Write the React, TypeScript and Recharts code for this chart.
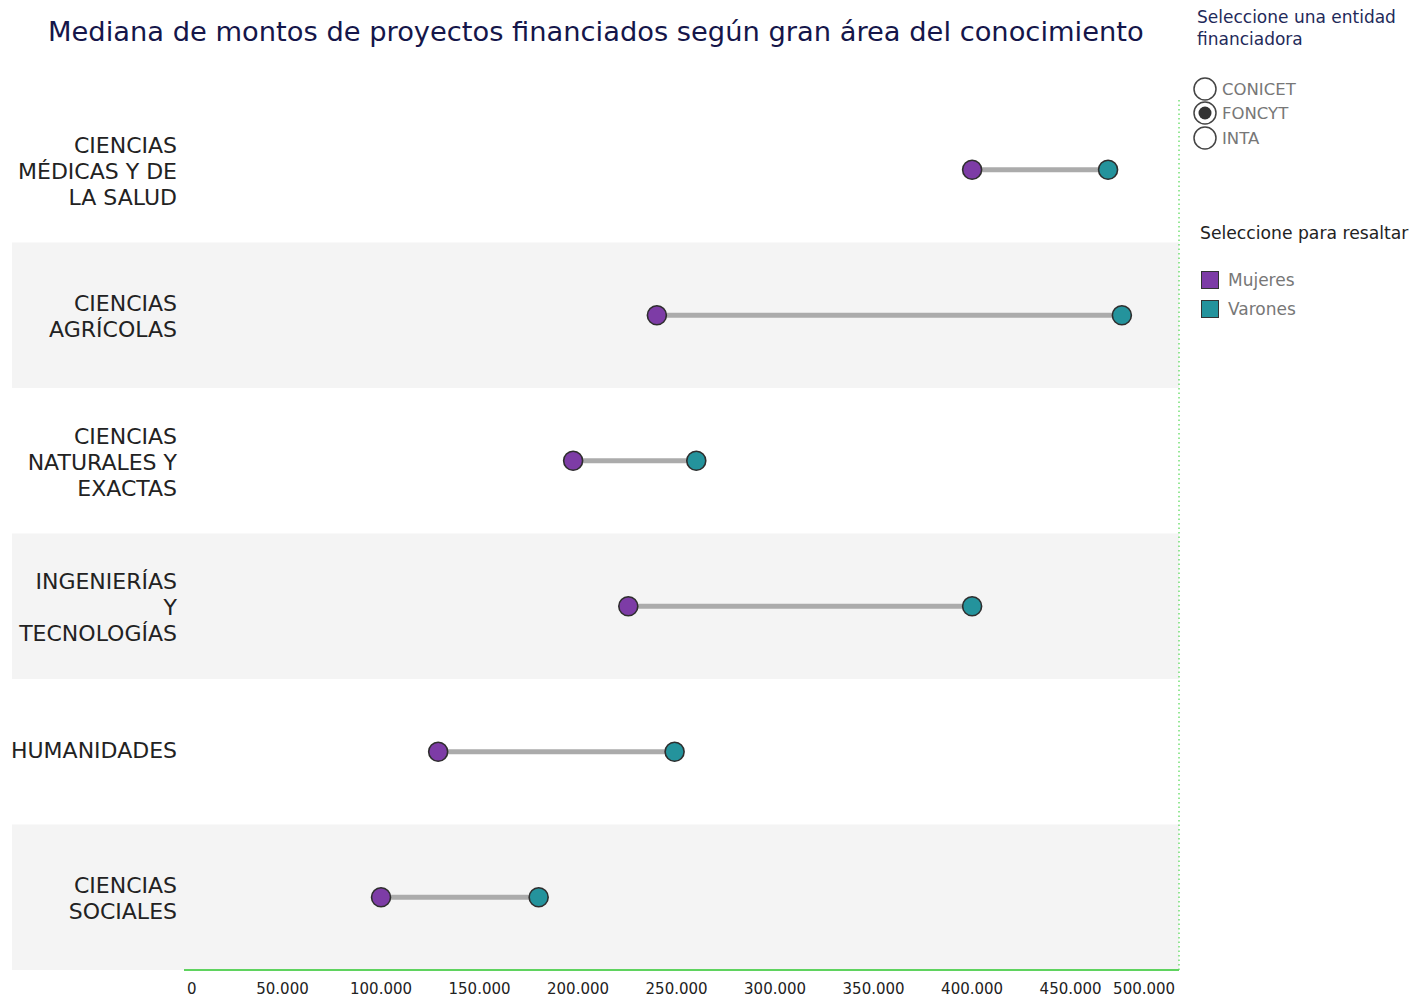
import { ComposedChart, Scatter, XAxis, YAxis, ReferenceArea, ReferenceLine } from 'recharts';

const areas = [
  ['CIENCIAS', 'MÉDICAS Y DE', 'LA SALUD'],
  ['CIENCIAS', 'AGRÍCOLAS'],
  ['CIENCIAS', 'NATURALES Y', 'EXACTAS'],
  ['INGENIERÍAS', 'Y', 'TECNOLOGÍAS'],
  ['HUMANIDADES'],
  ['CIENCIAS', 'SOCIALES'],
];
const mujeres = [400000, 240000, 197500, 225500, 129000, 100000];
const varones = [469000, 476000, 260000, 400000, 249000, 180000];
const xTicks = [0, 50000, 100000, 150000, 200000, 250000, 300000, 350000, 400000, 450000, 500000];
const entidades = ['CONICET', 'FONCYT', 'INTA'];
const seleccionada = 'FONCYT';

const PURPLE = '#7d3ca6';
const TEAL = '#24939c';
const FONT = '"DejaVu Sans", Verdana, sans-serif';

const mujData = mujeres.map((x, i) => ({ x, y: i }));
const varData = varones.map((x, i) => ({ x, y: i }));

const fmt = (v: number) => v.toLocaleString('de-DE');

function Dot(color: string) {
  return (p: any) => (
    <circle cx={p.cx} cy={p.cy} r={9.5} fill={color} stroke="#2e2e2e" strokeWidth={1.6} />
  );
}

function AreaTick(p: any) {
  const lines = areas[p.payload.value] || [];
  const start = p.y - 1.5 - ((lines.length - 1) * 26) / 2;
  return (
    <text x={177} textAnchor="end" fontFamily={FONT} fontSize={22} fill="#222">
      {lines.map((l, k) => (
        <tspan key={k} x={177} y={start + k * 26 + (lines.length > 1 ? 2.5 : 0)} dy="0.36em">{l}</tspan>
      ))}
    </text>
  );
}

function XTick(p: any) {
  const i = p.index;
  const anchor = i === 0 ? 'start' : i === xTicks.length - 1 ? 'end' : 'middle';
  const dx = i === 0 ? 3 : i === xTicks.length - 1 ? 6 : 0;
  return (
    <text x={p.x + dx} y={989} dy="0.36em" textAnchor={anchor} fontFamily={FONT} fontSize={15} fill="#222">
      {fmt(p.payload.value)}
    </text>
  );
}

function Band(p: any) {
  return <rect x={12} y={p.y} width={p.x + p.width - 12} height={p.height} fill="#f4f4f4" />;
}

export default function App() {
  return (
    <div style={{ position: 'absolute', left: 0, top: 0, width: 1412, height: 998, background: '#fff', fontFamily: FONT }}>
      <div style={{ position: 'absolute', left: 48, top: 16, fontSize: 27.3, color: '#15164a', whiteSpace: 'nowrap' }}>
        Mediana de montos de proyectos financiados según gran área del conocimiento
      </div>
      <ComposedChart width={1412} height={998} margin={{ top: 97, right: 233, bottom: 0, left: 12 }}>
        {[1, 3, 5].map((i) => (
          <ReferenceArea key={i} y1={i - 0.5} y2={i + 0.5} shape={Band} ifOverflow="visible" />
        ))}
        <XAxis
          type="number"
          dataKey="x"
          domain={[0, 505000]}
          ticks={xTicks}
          height={28}
          tickLine={false}
          axisLine={{ stroke: '#5fd35f', strokeWidth: 2 }}
          tick={XTick}
        />
        <YAxis
          type="number"
          dataKey="y"
          domain={[-0.5, 5.5]}
          reversed
          ticks={[0, 1, 2, 3, 4, 5]}
          width={172}
          axisLine={false}
          tickLine={false}
          tick={AreaTick}
        />
        <ReferenceLine x={505000} stroke="#2ed02e" strokeDasharray="1.5 3" />
        {mujeres.map((m, i) => (
          <Scatter
            key={i}
            data={[{ x: m, y: i }, { x: varones[i], y: i }]}
            line={{ stroke: '#ababab', strokeWidth: 5 }}
            shape={() => <g />}
            isAnimationActive={false}
          />
        ))}
        <Scatter name="Mujeres" data={mujData} shape={Dot(PURPLE)} isAnimationActive={false} />
        <Scatter name="Varones" data={varData} shape={Dot(TEAL)} isAnimationActive={false} />
      </ComposedChart>
      <div style={{ position: 'absolute', left: 1197, top: 6, fontSize: 17, lineHeight: '22px', color: '#1f2a5a' }}>
        Seleccione una entidad<br />financiadora
      </div>
      {entidades.map((e, i) => (
        <div key={e} style={{ position: 'absolute', left: 1193, top: 77 + i * 24.5, height: 24, display: 'flex', alignItems: 'center' }}>
          <svg width={25} height={25}>
            <circle cx={12} cy={12} r={11} fill="#fff" stroke="#444" strokeWidth={1.5} />
            {e === seleccionada && <circle cx={12} cy={12} r={6.5} fill="#333" />}
          </svg>
          <span style={{ marginLeft: 4, fontSize: 16.5, color: '#777' }}>{e}</span>
        </div>
      ))}
      <div style={{ position: 'absolute', left: 1200, top: 223, fontSize: 17.2, color: '#222' }}>
        Seleccione para resaltar
      </div>
      {[['Mujeres', PURPLE], ['Varones', TEAL]].map(([n, c], i) => (
        <div key={n} style={{ position: 'absolute', left: 1201, top: 270 + i * 29, display: 'flex', alignItems: 'center' }}>
          <div style={{ width: 16, height: 16, background: c, border: '1.5px solid #333' }} />
          <span style={{ marginLeft: 9, fontSize: 17, color: '#777' }}>{n}</span>
        </div>
      ))}
    </div>
  );
}
